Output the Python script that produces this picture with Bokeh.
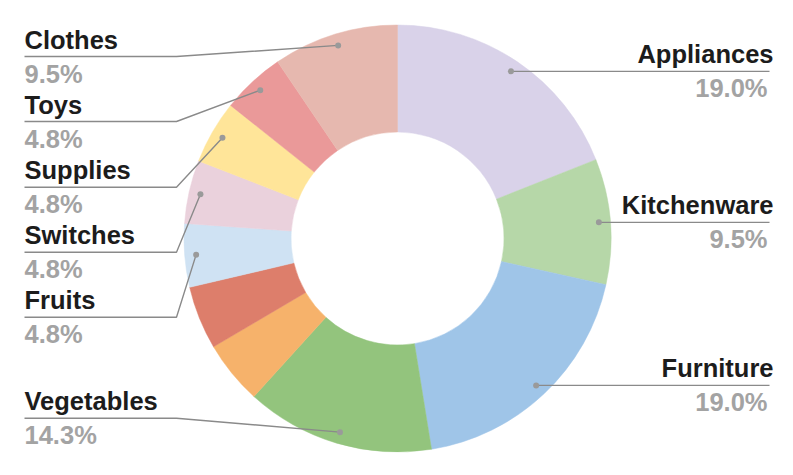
import math
from bokeh.plotting import figure
from bokeh.models import Range1d, ColumnDataSource
from bokeh.embed import file_html
from bokeh.resources import INLINE
from bokeh.core.properties import value

# ---- data ----
categories = ["Appliances", "Kitchenware", "Furniture", "Vegetables", "", "",
              "Fruits", "Switches", "Supplies", "Toys", "Clothes"]
shares = [19.0, 9.5, 19.0, 14.3, 4.8, 4.8, 4.8, 4.8, 4.8, 4.8, 9.5]
colors = ["#d9d2e9", "#b6d7a8", "#9fc5e8", "#93c47d", "#f6b26b", "#dd7e6b",
          "#cfe2f3", "#ead1dc", "#ffe599", "#ea9999", "#e6b8af"]

# ---- layout (pixel coordinates of the 793x475 page) ----
W, H = 785, 467
def py(y):
    return H - y

CX, CY = 397, 238
R_OUT, R_IN, R_DOT = 213.5, 106.5, 202
left_rows = {"Clothes": 56, "Toys": 121, "Supplies": 186.7, "Switches": 251.7,
             "Fruits": 316.7, "Vegetables": 417.7}
right_side = {"Appliances", "Kitchenware", "Furniture"}
LEFT_X, LEFT_ELBOW = 24, 176
RIGHT_END = 769
NAME_DY, PCT_DY = -17, 17

p = figure(width=W, height=H, output_backend="svg", toolbar_location=None,
           x_range=Range1d(0, W), y_range=Range1d(0, H),
           min_border=0, outline_line_color=None)
p.axis.visible = False
p.grid.visible = False
p.background_fill_color = "white"
p.border_fill_color = "white"

total = sum(shares)
starts, ends, mids = [], [], []
cum = 0.0
for s in shares:
    a0 = math.pi / 2 - 2 * math.pi * cum / total
    cum += s
    a1 = math.pi / 2 - 2 * math.pi * cum / total
    starts.append(a0)
    ends.append(a1)
    mids.append((a0 + a1) / 2)

src = ColumnDataSource(dict(x=[CX] * len(shares), y=[py(CY)] * len(shares),
                            start=starts, end=ends, color=colors))
p.annular_wedge(x="x", y="y", inner_radius=R_IN, outer_radius=R_OUT,
                start_angle="start", end_angle="end", direction="clock",
                color="color", line_color="color", line_width=0.5, source=src)

xs, ys, dx, dy = [], [], [], []
nx, ny, nt, na = [], [], [], []
vx, vy, vt, va = [], [], [], []
for name, s, m in zip(categories, shares, mids):
    if not name:
        continue
    dotx = CX + R_DOT * math.cos(m)
    doty = CY - R_DOT * math.sin(m)
    dx.append(dotx)
    dy.append(py(doty))
    pct = f"{s:.1f}%"
    if name in right_side:
        xs.append([dotx, RIGHT_END])
        ys.append([py(doty), py(doty)])
        nx.append(773); ny.append(py(doty + NAME_DY)); nt.append(name); na.append("right")
        vx.append(767); vy.append(py(doty + PCT_DY)); vt.append(pct); va.append("right")
    else:
        uy = left_rows[name]
        xs.append([LEFT_X, LEFT_ELBOW, dotx])
        ys.append([py(uy), py(uy), py(doty)])
        nx.append(LEFT_X); ny.append(py(uy + NAME_DY)); nt.append(name); na.append("left")
        vx.append(LEFT_X); vy.append(py(uy + PCT_DY)); vt.append(pct); va.append("left")

p.multi_line(xs=xs, ys=ys, line_color="#8a8a8a", line_width=1.4)
p.scatter(x=dx, y=dy, size=6, color="#9a9a9a", line_color=None)

p.text(x=nx, y=ny, text=nt, text_align=na, text_baseline="alphabetic",
       text_font=value("Liberation Sans"), text_font_style="bold",
       text_font_size="25.5px", text_color="#1c1c1c")
p.text(x=vx, y=vy, text=vt, text_align=va, text_baseline="alphabetic",
       text_font=value("Liberation Sans"), text_font_style="bold",
       text_font_size="25.5px", text_color="#a3a3a3")

open("out.html", "w").write(file_html(p, INLINE))
